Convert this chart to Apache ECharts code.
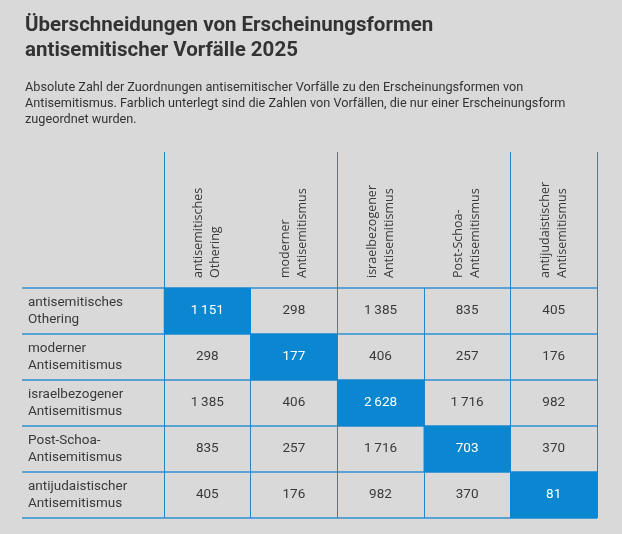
<!DOCTYPE html>
<html><head><meta charset="utf-8">
<script src="https://cdn.jsdelivr.net/npm/echarts@6/dist/echarts.min.js"></script>
<style>html,body{margin:0;padding:0;background:#d9d9d9}#c{width:622px;height:534px}</style>
</head><body><div id="c"></div>
<script>
const forms = ['antisemitisches\nOthering','moderner\nAntisemitismus','israelbezogener\nAntisemitismus','Post-Schoa-\nAntisemitismus','antijudaistischer\nAntisemitismus'];
const row1 = [1151, 298, 1385, 835, 405];
const row2 = [298, 177, 406, 257, 176];
const row3 = [1385, 406, 2628, 1716, 982];
const row4 = [835, 257, 1716, 703, 370];
const row5 = [405, 176, 982, 370, 81];
const rows = [row1,row2,row3,row4,row5];

const BLUE = '#0a87d0', LINE = '#2f8fd0', TEXT = '#3a3a3a';
const fmt = v => String(v).replace(/\B(?=(\d{3})+(?!\d))/g, '\u2009');
const data = [];
rows.forEach((r, y) => r.forEach((v, x) => {
  const diag = x === y;
  data.push({value:[x, y, v], itemStyle:{color: diag ? BLUE : 'rgba(0,0,0,0)'},
    label:{color: diag ? '#ffffff' : TEXT}});
}));

const chart = echarts.init(document.getElementById('c'), null, {renderer:'canvas'});
const vLine = {show:true, lineStyle:{color:'#1f86cc', width:1}};
const hLine = {show:true, lineStyle:{color:LINE, width:1.6}};
chart.setOption({
  backgroundColor:'#d9d9d9',
  textStyle:{fontFamily:'Roboto'},
  title:[
    {text:'Überschneidungen von Erscheinungsformen\nantisemitischer Vorfälle 2025', left:20, top:8,
     textStyle:{fontFamily:'Roboto', fontWeight:'bold', fontSize:20.5, lineHeight:25, color:'#333'}},
    {text:'Absolute Zahl der Zuordnungen antisemitischer Vorfälle zu den Erscheinungsformen von\nAntisemitismus. Farblich unterlegt sind die Zahlen von Vorfällen, die nur einer Erscheinungsform\nzugeordnet wurden.',
     left:20, top:75, textStyle:{fontFamily:'Roboto', fontWeight:'normal', fontSize:12.7, lineHeight:16, color:'#333'}}
  ],
  grid:[
    {left:164, top:288, width:433, height:230},
    {left:164, top:152, width:433, height:136},
    {left:22, top:288, width:142, height:230}
  ],
  xAxis:[
    {type:'category', gridIndex:0, data:forms, position:'top', axisLine:{show:false}, axisTick:{show:false},
     splitLine:vLine,
     axisLabel:{rotate:-90, margin:10, fontFamily:'Open Sans', fontSize:12.5, lineHeight:17, color:TEXT}},
    {type:'category', gridIndex:1, data:forms, axisLine:{show:false}, axisTick:{show:false}, axisLabel:{show:false},
     splitLine:vLine},
    {type:'value', gridIndex:2, show:false}
  ],
  yAxis:[
    {type:'category', gridIndex:0, data:forms, inverse:true, axisLine:{show:false}, axisTick:{show:false}, axisLabel:{show:false},
     splitLine:hLine},
    {type:'value', gridIndex:1, show:false},
    {type:'category', gridIndex:2, data:forms, inverse:true, axisLine:{show:false}, axisTick:{show:false},
     splitLine:hLine,
     axisLabel:{inside:true, margin:6, align:'left', fontFamily:'Roboto', fontSize:13.5, lineHeight:17, color:TEXT}}
  ],
  series:[{
    type:'heatmap', xAxisIndex:0, yAxisIndex:0, data:data,
    label:{show:true, fontFamily:'Roboto', fontSize:13.5, formatter:p => fmt(p.value[2])},
    emphasis:{disabled:true}
  }]
});
</script></body></html>
